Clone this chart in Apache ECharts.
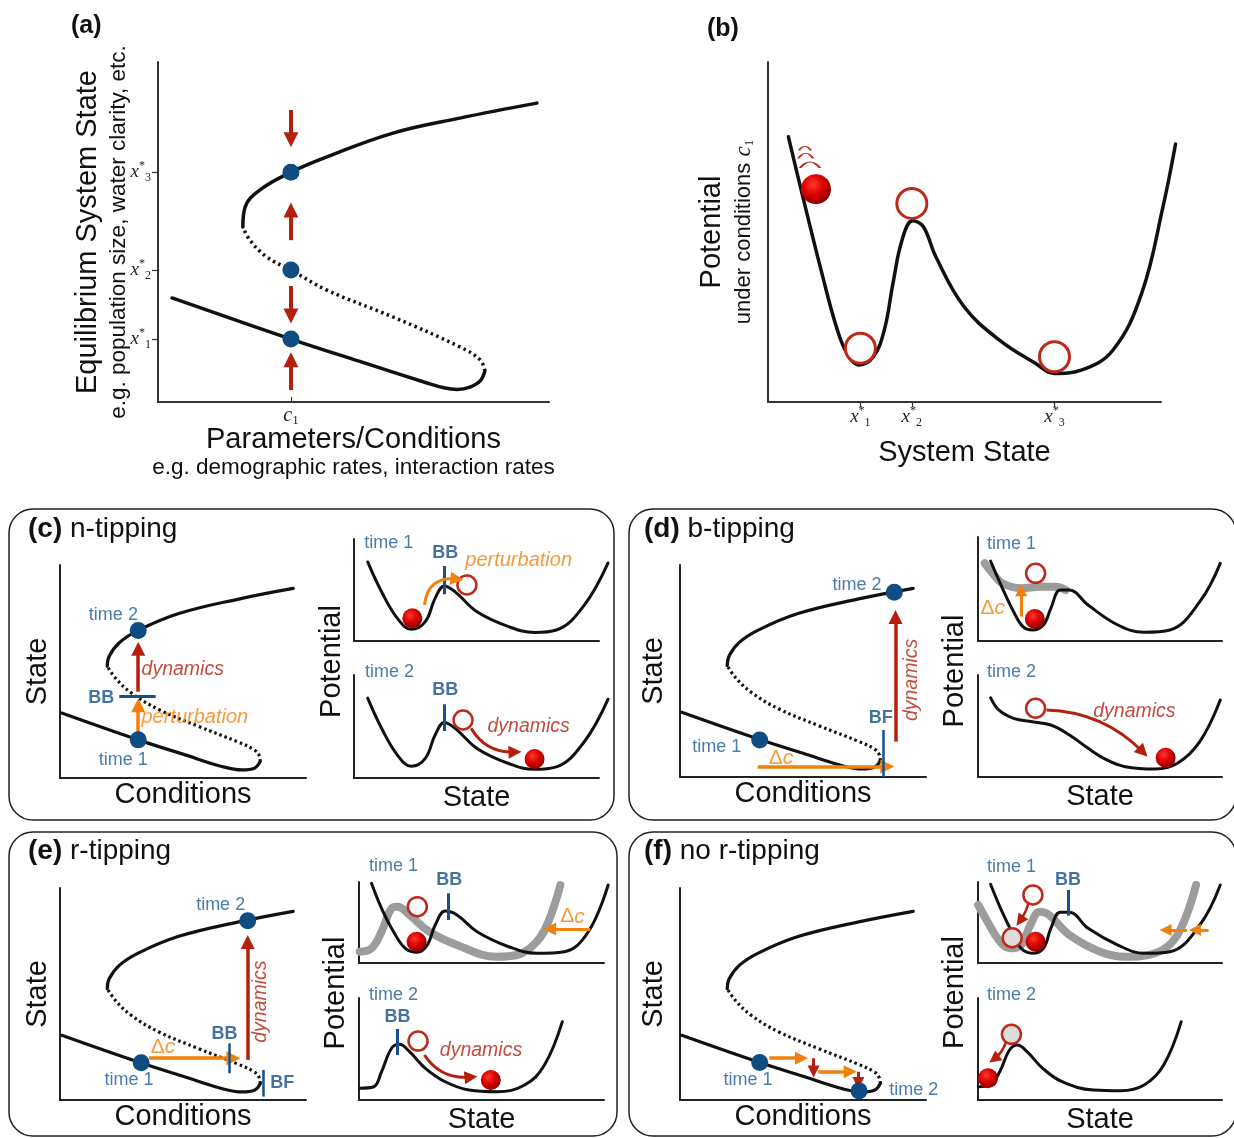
<!DOCTYPE html>
<html><head><meta charset="utf-8">
<script src="https://cdn.jsdelivr.net/npm/echarts@6/dist/echarts.min.js"></script>
<style>html,body{margin:0;padding:0;background:#fff}#c{width:1234px;height:1138px}</style>
</head><body><div id="c"></div>
<script>
// ================= DATA (axis units 0-100) =================
// Panel (a): S-shaped equilibrium curve
const aLower  = [[3.6,30.6],[34.0,18.5],[51.4,12.0],[68.8,5.6],[73.4,4.1],[76.5,3.7],[79.8,4.4],[82.4,6.2],[83.6,9.1]];
const aMiddle = [[83.6,9.1],[82.4,12.4],[77.2,16.2],[60.1,25.0],[43.2,32.9],[34.0,38.8],[27.9,42.6],[23.5,47.6],[21.7,51.5]];
const aUpper  = [[21.7,51.5],[22.3,57.4],[26.1,62.4],[34.0,67.6],[43.2,72.1],[60.1,79.1],[77.2,83.5],[96.9,87.9]];
const aEquilibria = [[34.0,18.5],[34.0,38.8],[34.0,67.6]];
const aArrows = [[34.0,85.9,34.0,77.1],[34.0,47.6,34.0,56.5],[34.0,34.1,34.0,25.3],[34.0,3.5,34.0,12.4]];
const aStateTicks = [18.5,38.8,67.6];
const aStateTickLabels = ['1','2','3'];
const aCondTicks = [34.0];

// Panel (b): potential landscape
const bPotential = [[5.2,78.0],[7.4,67.3],[10.1,54.5],[13.7,37.9],[17.4,22.1],[20.1,14.3],[23.2,10.9],[26.8,13.3],[29.6,21.2],[31.8,34.9],[34.1,47.6],[36.8,53.3],[39.5,51.6],[42.7,42.7],[49.9,28.0],[58.9,18.2],[68.0,11.4],[72.9,8.4],[79.7,9.4],[87.8,15.3],[95.1,32.0],[100.5,57.4],[103.7,75.9]];
const bStateTicks = [23.5,36.6,72.9];
const bStateTickLabels = ['1','2','3'];
const bRings = [[23.5,15.8],[36.6,58.4],[72.9,13.3]];
const bBall = [[12.2,62.6]];
const bWiggles = [[9.4,74.6],[9.6,72.4],[10.7,69.7]];

// Panels (c)-(f): shared small S-curve
const sLower  = [[0.7,30.5],[31.8,17.9],[50.0,11.2],[66.1,5.3],[74.1,3.8],[79.0,4.6],[81.4,7.7]];
const sMiddle = [[81.4,7.7],[81.0,10.5],[79.0,13.2],[72.6,16.8],[56.4,24.2],[40.2,32.1],[28.9,40.0],[22.5,47.0],[19.2,52.5]];
const sUpper  = [[19.2,52.5],[20.0,57.2],[24.1,63.5],[31.8,69.3],[48.3,77.2],[72.6,84.0],[94.8,89.0]];

// (c) n-tipping
const cDots = [[31.8,17.9],[31.8,69.3]];
const cBBTick = [[24.1,38.2,38.9,38.2]];
const cPerturbArrow = [[31.8,17.9,31.8,34.1]];
const cDynArrow = [[31.8,40.5,31.8,60.7]];
const potC = [[5.6,77.5],[11.3,48.0],[17.8,22.0],[23.4,11.4],[29.1,19.0],[33.1,41.8],[36.9,54.0],[41.3,48.2],[50.2,28.7],[63.1,14.1],[73.7,8.4],[82.6,10.8],[94.0,35.2],[103.7,76.5]];
const cTopBall = [[23.8,22.3]], cTopRing = [[46.1,54.9]], cTopBB = [[36.9,73.5,36.9,45.8]];
const cTopArrow = [[28.8,35.3,42.0,60.8]];
const cBotBall = [[73.7,18.4]], cBotRing = [[44.5,56.3]], cBotBB = [[36.9,71.6,36.9,45.6]];
const cBotArrow = [[47.8,48.3,65.7,25.2]];

// (d) b-tipping
const dDots = [[32.4,17.5],[87.1,87.2]];
const dDeltaArrow = [[31.6,4.9,84.3,4.9]];
const dDynArrow = [[87.6,16.7,87.6,75.5]];
const dBF = [[82.8,0,82.8,22.2]];
const potD1 = [[5.4,76.9],[10.5,50.7],[15.3,28.2],[19.3,13.8],[23.3,10.6],[28.1,15.4],[31.3,31.4],[35.3,49.0],[39.3,49.0],[47.3,34.6],[60.1,15.4],[71.3,8.4],[82.5,10.6],[95.3,37.8],[104.1,74.7]];
const potD1Shift = [[2.9,74.7],[6.5,64.5],[10.4,55.5],[18.6,50.7],[26.8,52.2],[33.6,52.2],[37.7,49.0]];
const dTopRing = [[23.6,65.1]], dTopBall = [[23.3,21.2]], dTopArrow = [[17.7,23.4,17.7,48.8]];
const potD2 = [[5.4,77.7],[8.9,65.7],[15.3,57.5],[23.3,54.2],[31.3,51.0],[39.3,41.2],[47.3,28.1],[55.3,16.7],[63.3,10.1],[76.1,7.8],[85.7,13.4],[95.3,34.6],[104.1,75.5]];
const dBotRing = [[23.6,67.4]], dBotBall = [[76.9,18.9]], dBotArrow = [[28.1,65.7,67.6,24.5]];

// (e) r-tipping
const eDots = [[33.0,17.6],[76.3,84.6]];
const eDeltaArrow = [[36.2,19.7,70.5,19.7]];
const eBB = [[69.0,26.7,69.0,12.6]];
const eDynArrow = [[76.3,18.9,76.3,74.5]];
const eBF = [[82.6,14.2,82.6,1.6]];
const potE1 = [[5.1,98.4],[9.2,67.5],[14.1,38.6],[18.9,18.1],[23.8,13.2],[27.9,22.2],[31.1,46.9],[35.2,64.2],[40.0,59.3],[48.2,38.6],[61.1,20.1],[72.5,12.0],[83.8,14.0],[93.6,38.6],[101.7,96.3]];
const potE1Shift = [[0.3,14.0],[5.1,18.1],[9.2,38.6],[13.3,67.5],[15.7,69.5],[20.6,59.3],[28.7,38.6],[40.0,22.2],[56.2,7.8],[64.4,9.9],[72.5,26.3],[77.3,51.0],[82.2,96.3]];
const eTopRing = [[23.8,69.5]], eTopBall = [[23.5,26.3]], eTopBB = [[36.4,86.0,36.4,53.1]], eTopArrow = [[94.4,42.0,77.8,42.0]];
const potE2 = [[0.3,11.5],[6.0,13.0],[9.2,27.7],[13.3,50.7],[16.5,54.6],[20.6,47.4],[27.1,31.1],[35.2,17.9],[44.9,9.8],[56.2,8.1],[67.6,14.7],[75.7,34.3],[83.0,76.8]];
const eBotRing = [[24.1,57.8]], eBotBall = [[53.8,19.6]], eBotBB = [[15.7,69.6,15.7,44.1]], eBotArrow = [[26.7,44.1,45.7,22.5]];

// (f) no r-tipping
const fDots = [[32.4,17.7],[72.8,4.3]];
const fShiftArrows = [[36.3,19.7,49.4,19.7],[56.2,13.3,69.2,13.3]];
const fTrackArrows = [[54.3,19.7,54.3,13.5],[72.5,13.3,72.5,8.0]];
const potF1 = [[5.4,97.2],[9.7,67.5],[14.5,38.6],[18.5,18.1],[23.3,12.0],[28.1,18.1],[31.3,42.8],[35.3,62.6],[39.3,62.6],[47.3,42.8],[60.1,22.2],[71.3,12.0],[82.5,14.0],[95.3,46.9],[104.1,96.3]];
const potF1Shift = [[0.1,71.6],[4.1,51.0],[8.9,28.4],[13.7,18.1],[18.5,22.2],[22.5,46.9],[26.5,63.3],[30.5,59.3],[39.3,34.6],[52.5,14.0],[63.3,7.8],[76.1,12.0],[85.7,34.6],[93.7,96.3]];
const fTopRing = [[22.5,84.0]], fTopGreyRing = [[14.0,31.2]], fTopBall = [[23.6,26.3]], fTopBB = [[36.9,90.1,36.9,58.4]];
const fTopArrow = [[20.9,76.5,17.2,51.9]], fTopShift = [[85.7,40.7,76.9,40.7],[94.5,40.7,88.9,40.7]];
const potF2 = [[0.1,13.0],[4.9,14.7],[8.9,27.7],[12.9,49.0],[16.1,53.9],[20.1,47.4],[26.5,31.1],[34.5,17.9],[47.3,9.8],[58.5,9.1],[68.1,14.7],[76.1,34.3],[83.3,76.8]];
const fBotGreyRing = [[13.7,64.4]], fBotBall = [[4.1,21.3]], fBotArrow = [[11.3,55.6,6.6,40.2]];

// ================= STYLE =================
const FONT = '"Liberation Sans", Arial, Helvetica, sans-serif';
const SERIF = '"Liberation Serif", "DejaVu Serif", serif';
const INK = '#111111', AXIS = '#222222';
const BLUE_DOT = '#0f4c81', BLUE_TXT = '#1b5a96', BLUE_BB = '#15508a';
const RED = '#b3200e', RING = '#c0281a', ORANGE = '#f2810c', GREY = '#9c9c9c';
const BALL = {type:'radial', x:0.4, y:0.35, r:0.68, colorStops:[{offset:0,color:'#ff3a2e'},{offset:0.5,color:'#dc0000'},{offset:1,color:'#870000'}]};

const grids = [], xAxes = [], yAxes = [], series = [];
function axisBase(i){
  return {gridIndex:i, type:'value', min:0, max:100, nameMoveOverlap:false,
    axisLine:{show:true, onZero:false, lineStyle:{color:AXIS, width:2}},
    axisTick:{show:false}, axisLabel:{show:false}, splitLine:{show:false}};
}
function addGrid(r, xo, yo){
  const i = grids.length;
  grids.push({left:r[0], top:r[1], width:r[2], height:r[3], containLabel:false});
  xAxes.push(Object.assign(axisBase(i), xo||{}));
  yAxes.push(Object.assign(axisBase(i), yo||{}));
  return i;
}
// same units as the plotted axes, but with a wider extent so curves may run past the axis end
function overlay(r, xmax){
  return addGrid([r[0], r[1], r[2]*xmax/100, r[3]], {show:false, max:xmax}, {show:false});
}
function curve(g, data, o){
  o = o||{};
  series.push({type:'line', xAxisIndex:g, yAxisIndex:g, data:data, smooth:o.smooth==null?0.4:o.smooth,
    symbol:'none', showSymbol:false, clip:false, silent:true, z:o.z||2,
    lineStyle:{color:o.color||INK, width:o.width||3, type:o.type||'solid', cap:o.cap||'round', join:'round', opacity:o.opacity==null?1:o.opacity}});
}
function arrows(g, list, o){
  series.push({type:'lines', coordinateSystem:'cartesian2d', xAxisIndex:g, yAxisIndex:g, silent:true, clip:false,
    zlevel:o.zlevel||0, z:o.z||4,
    symbol:['none', o.head ? 'triangle' : 'none'], symbolSize:[0, o.head||0],
    lineStyle:{color:o.color, width:o.width||3, opacity:1, curveness:o.curve||0},
    data:list.map(a => ({coords:[[a[0],a[1]],[a[2],a[3]]]}))});
}
function marks(g, list, o){
  series.push({type:'scatter', xAxisIndex:g, yAxisIndex:g, silent:true, clip:false, zlevel:1, z:o.z||8,
    symbol:o.symbol||'circle', symbolSize:o.size, itemStyle:Object.assign({opacity:1}, o.style), data:list});
}
const STY = {
  time:{color:BLUE_TXT, fontSize:18},
  bb:{color:BLUE_BB, fontSize:18, fontWeight:'bold'},
  dyn:{color:RED, fontSize:19.5, fontStyle:'italic'},
  pert:{color:ORANGE, fontSize:20, fontStyle:'italic'},
  dc:{rich:{d:{color:ORANGE,fontSize:21,fontFamily:FONT}, c:{color:ORANGE,fontSize:21,fontStyle:'italic',fontFamily:FONT}}}
};
function texts(g, list){
  series.push({type:'scatter', xAxisIndex:g, yAxisIndex:g, silent:true, clip:false, zlevel:1, z:9, symbolSize:1,
    itemStyle:{color:'rgba(0,0,0,0)'},
    data:list.map(t => ({value:[t[1],t[2]], label:Object.assign({show:true, position:'inside', align:'center', verticalAlign:'middle',
      fontFamily:FONT, formatter: t[3]==='dc' ? '{d|Δ}{c|c}' : t[0]}, STY[t[3]], t[4]||{})}))});
}
function nameStyle(size, lh){ return {fontFamily:FONT, fontSize:size, lineHeight:lh, color:INK}; }
function nearest(arr, v){ let bi=0; arr.forEach((t,i)=>{ if (Math.abs(t-v) < Math.abs(arr[bi]-v)) bi=i; }); return bi; }
const STAR_RICH = {
  x:{fontFamily:SERIF, fontStyle:'italic', fontSize:19, lineHeight:24, color:'#222'},
  s:{fontFamily:SERIF, fontSize:12, verticalAlign:'top', color:'#222'},
  n:{fontFamily:SERIF, fontSize:12, verticalAlign:'bottom', color:'#222'}
};
const ringStyle = w => ({color:'#ffffff', borderColor:RING, borderWidth:w});
const greyRingStyle = {color:'#dcdcdc', borderColor:RING, borderWidth:2.5};

// ================= PANEL (a) =================
const ga = addGrid([158,62,391,340],
  {name:'{big|Parameters/Conditions}\n{small|e.g. demographic rates, interaction rates}', nameLocation:'middle', nameGap:23,
   nameTextStyle:{rich:{big:nameStyle(29,29), small:nameStyle(22.5,27)}},
   axisLine:{show:true,onZero:false,lineStyle:{color:'#333',width:2}},
   axisTick:{show:true, inside:true, customValues:aCondTicks, length:5, lineStyle:{color:'#333',width:1.2}},
   axisLabel:{show:true, customValues:aCondTicks, margin:3, formatter:() => '{c|c}{n|1}',
     rich:{c:{fontFamily:SERIF,fontStyle:'italic',fontSize:20,lineHeight:22,color:'#222'}, n:{fontFamily:SERIF,fontSize:13,verticalAlign:'bottom',color:'#222'}}}},
  {name:'{big|Equilibrium System State}\n{small|e.g. population size, water clarity, etc.}', nameLocation:'middle', nameRotate:90, nameGap:26,
   nameTextStyle:{rich:{big:nameStyle(29,35), small:nameStyle(22.5,27)}},
   axisLine:{show:true,onZero:false,lineStyle:{color:'#333',width:2}},
   axisTick:{show:true, customValues:aStateTicks, length:6, lineStyle:{color:'#333',width:1.2}},
   axisLabel:{show:true, customValues:aStateTicks, margin:7,
     formatter:v => '{x|x}{s|*}{n|' + aStateTickLabels[nearest(aStateTicks,v)] + '}', rich:STAR_RICH}});
curve(ga, aLower, {width:3.5});
curve(ga, aMiddle, {width:3.5, type:[2.5,3.5], cap:'butt'});
curve(ga, aUpper, {width:3.5});
arrows(ga, aArrows, {color:RED, width:4, head:15});
marks(ga, aEquilibria, {size:17, style:{color:BLUE_DOT}, z:10});

// ================= PANEL (b) =================
const bRect = [768,62,393,340];
const gb = addGrid(bRect,
  {name:'System State', nameLocation:'middle', nameGap:34, nameTextStyle:nameStyle(29,34),
   axisLine:{show:true,onZero:false,lineStyle:{color:'#333',width:2}},
   axisTick:{show:true, customValues:bStateTicks, length:5, lineStyle:{color:'#333',width:1.2}},
   axisLabel:{show:true, customValues:bStateTicks, margin:3,
     formatter:v => '{x|x}{s|*}{n|' + bStateTickLabels[nearest(bStateTicks,v)] + '}', rich:STAR_RICH}},
  {name:'{big|Potential}\n{small|under conditions }{ci|c}{cn|1}', nameLocation:'middle', nameRotate:90, nameGap:12,
   nameTextStyle:{rich:{big:nameStyle(29,38), small:nameStyle(22,25),
     ci:{fontFamily:SERIF,fontStyle:'italic',fontSize:23,lineHeight:25,color:INK}, cn:{fontFamily:SERIF,fontSize:13,lineHeight:25,verticalAlign:'bottom',color:INK}}},
   axisLine:{show:true,onZero:false,lineStyle:{color:'#333',width:2}}});
curve(overlay(bRect,110), bPotential, {width:3.5, smooth:0.4});
marks(gb, bRings, {size:30, style:ringStyle(3)});
marks(gb, bBall, {size:30, style:{color:BALL}});
marks(gb, bWiggles.slice(0,1), {symbol:'path://M0,8 Q10,0 20,8', size:[12,4], style:{color:'none', borderColor:RING, borderWidth:1.5}});
marks(gb, bWiggles.slice(1,2), {symbol:'path://M0,8 Q10,0 20,8', size:[15,5], style:{color:'none', borderColor:RING, borderWidth:1.5}});
marks(gb, bWiggles.slice(2,3), {symbol:'path://M0,8 Q10,0 20,8', size:[20,6], style:{color:'none', borderColor:RING, borderWidth:1.5}});

// ================= helpers for (c)-(f) =================
function leftPlot(rect, stateGap){
  const g = addGrid(rect,
    {name:'Conditions', nameLocation:'middle', nameGap:1, nameTextStyle:nameStyle(29,32)},
    {name:'State', nameLocation:'middle', nameRotate:90, nameGap:stateGap, nameTextStyle:nameStyle(29,32)});
  curve(g, sLower, {width:3.2});
  curve(g, sMiddle, {width:3.2, type:[2.5,3], cap:'butt'});
  curve(g, sUpper, {width:3.2});
  return g;
}
function potName(rect, gap){
  addGrid(rect, {show:false},
    {axisLine:{show:false}, name:'Potential', nameLocation:'middle', nameRotate:90, nameGap:gap, nameTextStyle:nameStyle(29,32)});
}
const stateX = {name:'State', nameLocation:'middle', nameGap:4, nameTextStyle:nameStyle(29,32)};

// ================= PANEL (c) =================
const cL = leftPlot([60,565,246,213], 6);
arrows(cL, cPerturbArrow, {color:ORANGE, width:3.5, head:14});
arrows(cL, cDynArrow, {color:RED, width:3.5, head:14});
arrows(cL, cBBTick, {color:BLUE_BB, width:3});
marks(cL, cDots, {size:17, style:{color:BLUE_DOT}});
texts(cL, [['time 2',21.7,76.5,'time'],['time 1',25.7,8.5,'time'],['dynamics',49.9,50.7,'dyn'],['perturbation',54.8,28.3,'pert'],['BB',16.8,37.4,'bb']]);

const cTRect = [354,539,245,102];
const cT = addGrid(cTRect);
curve(overlay(cTRect,110), potC, {width:3});
arrows(cT, cTopBB, {color:BLUE_BB, width:3});
marks(cT, cTopRing, {size:19, style:ringStyle(2.5)});
marks(cT, cTopBall, {size:20, style:{color:BALL}});
arrows(cT, cTopArrow, {color:ORANGE, width:3, head:13, curve:0.5, zlevel:1, z:9});
texts(cT, [['time 1',14.2,95.8,'time'],['BB',37.2,86.0,'bb'],['perturbation',67.2,79.4,'pert']]);

const cBRect = [354,675,245,103];
const cB = addGrid(cBRect, stateX);
curve(overlay(cBRect,110), potC, {width:3});
arrows(cB, cBotBB, {color:BLUE_BB, width:3});
marks(cB, cBotRing, {size:19, style:ringStyle(2.5)});
marks(cB, cBotBall, {size:20, style:{color:BALL}});
arrows(cB, cBotArrow, {color:RED, width:3, head:13, curve:-0.3});
texts(cB, [['time 2',14.5,103.2,'time'],['BB',37.2,85.4,'bb'],['dynamics',71.3,49.8,'dyn']]);
potName([354,545,245,233], 6);

// ================= PANEL (d) =================
const dL = leftPlot([680,565,246,212], 10);
arrows(dL, dDeltaArrow, {color:ORANGE, width:3.5, head:14});
arrows(dL, dDynArrow, {color:RED, width:3.5, head:14});
arrows(dL, dBF, {color:BLUE_BB, width:2.5});
marks(dL, dDots, {size:17, style:{color:BLUE_DOT}});
texts(dL, [['time 1',14.9,14.3,'time'],['time 2',72.0,90.6,'time'],['Δc',41.1,8.8,'dc'],['BF',81.6,27.7,'bb'],['dynamics',94.3,45.8,'dyn',{rotate:90}]]);

const dTRect = [978,537,244,104];
const dT = addGrid(dTRect);
const dTo = overlay(dTRect,110);
curve(dTo, potD1Shift, {width:8, color:GREY, z:1});
curve(dTo, potD1, {width:3});
marks(dT, dTopRing, {size:19, style:ringStyle(2.5)});
marks(dT, dTopBall, {size:20, style:{color:BALL}});
arrows(dT, dTopArrow, {color:ORANGE, width:3, head:12});
texts(dT, [['time 1',13.7,93.0,'time'],['Δc',6.0,31.4,'dc']]);

const dBRect = [978,675,244,102];
const dB = addGrid(dBRect, stateX);
curve(overlay(dBRect,110), potD2, {width:3});
marks(dB, dBotRing, {size:19, style:ringStyle(2.5)});
marks(dB, dBotBall, {size:20, style:{color:BALL}});
arrows(dB, dBotArrow, {color:RED, width:3, head:13, curve:0.2});
texts(dB, [['time 2',13.7,103.2,'time'],['dynamics',64.1,64.0,'dyn']]);
potName([978,565,244,212], 7);

// ================= PANEL (e) =================
const eL = leftPlot([60,888,246,212], 6);
arrows(eL, eDeltaArrow, {color:ORANGE, width:3.5, head:14});
arrows(eL, eDynArrow, {color:RED, width:3.5, head:14});
arrows(eL, eBB, {color:BLUE_BB, width:2.5});
arrows(eL, eBF, {color:BLUE_BB, width:2.5});
marks(eL, eDots, {size:17, style:{color:BLUE_DOT}});
texts(eL, [['time 1',28.1,9.4,'time'],['time 2',65.3,92.0,'time'],['Δc',41.9,25.1,'dc'],['BB',66.9,31.0,'bb'],['dynamics',81.4,46.4,'dyn',{rotate:90}],['BF',90.3,7.9,'bb']]);

const eTRect = [359,882,245,81];
const eT = addGrid(eTRect);
const eTo = overlay(eTRect,110);
curve(eTo, potE1Shift, {width:8, color:GREY, z:1});
curve(eTo, potE1, {width:3});
arrows(eT, eTopBB, {color:BLUE_BB, width:3});
marks(eT, eTopRing, {size:19, style:ringStyle(2.5)});
marks(eT, eTopBall, {size:20, style:{color:BALL}});
arrows(eT, eTopArrow, {color:ORANGE, width:3, head:13});
texts(eT, [['time 1',14.1,119.4,'time'],['BB',36.8,102.5,'bb'],['Δc',87.1,57.2,'dc']]);

const eB = addGrid([359,998,245,102], stateX);
curve(eB, potE2, {width:3});
arrows(eB, eBotBB, {color:BLUE_BB, width:3});
marks(eB, eBotRing, {size:19, style:ringStyle(2.5)});
marks(eB, eBotBall, {size:20, style:{color:BALL}});
arrows(eB, eBotArrow, {color:RED, width:3, head:13, curve:-0.3});
texts(eB, [['time 2',14.1,102.9,'time'],['BB',15.7,81.7,'bb'],['dynamics',49.8,48.0,'dyn']]);
potName([359,886,245,214], 7);

// ================= PANEL (f) =================
const fL = leftPlot([680,888,246,212], 10);
arrows(fL, fShiftArrows, {color:ORANGE, width:3.5, head:13});
arrows(fL, fTrackArrows, {color:RED, width:3, head:12});
marks(fL, fDots, {size:17, style:{color:BLUE_DOT}});
texts(fL, [['time 1',27.6,9.4,'time'],['time 2',95.0,4.7,'time']]);

const fTRect = [978,882,244,81];
const fT = addGrid(fTRect);
const fTo = overlay(fTRect,110);
curve(fTo, potF1Shift, {width:8, color:GREY, z:1});
curve(fTo, potF1, {width:3});
arrows(fT, fTopBB, {color:BLUE_BB, width:3});
marks(fT, fTopRing, {size:19, style:ringStyle(2.5)});
marks(fT, fTopGreyRing, {size:19, style:greyRingStyle});
marks(fT, fTopBall, {size:20, style:{color:BALL}});
arrows(fT, fTopArrow, {color:RED, width:2.5, head:12, curve:0.1});
arrows(fT, fTopShift, {color:ORANGE, width:3, head:12});
texts(fT, [['time 1',13.7,118.9,'time'],['BB',36.9,102.5,'bb']]);

const fB = addGrid([978,998,244,102], stateX);
curve(fB, potF2, {width:3});
marks(fB, fBotGreyRing, {size:19, style:greyRingStyle});
marks(fB, fBotBall, {size:20, style:{color:BALL}});
arrows(fB, fBotArrow, {color:RED, width:2.5, head:12, curve:0.15, zlevel:1, z:9});
texts(fB, [['time 2',13.7,102.9,'time']]);
potName([978,885,244,215], 7);

// ================= TITLES / FRAMES =================
function panelTitle(tag, text, left, top, size){
  return {text:'{b|' + tag + '}' + (text ? ' {n|' + text + '}' : ''), left:left, top:top, padding:0,
    textStyle:{fontWeight:'normal', fontFamily:FONT, fontSize:size,
      rich:{b:{fontFamily:FONT,fontSize:size,fontWeight:'bold',lineHeight:size+5,color:INK},
            n:{fontFamily:FONT,fontSize:size,fontWeight:'normal',lineHeight:size+5,color:INK}}}};
}
const box = (x,y,w,h) => ({type:'rect', silent:true, z:-10, shape:{x:x,y:y,width:w,height:h,r:24}, style:{fill:'none', stroke:'#222', lineWidth:1.5}});

const option = {
  animation:false, backgroundColor:'#ffffff',
  textStyle:{fontFamily:FONT},
  title:[panelTitle('(a)','',71,11,25), panelTitle('(b)','',707,14,25),
         panelTitle('(c)','n-tipping',28,513,28), panelTitle('(d)','b-tipping',644,513,28),
         panelTitle('(e)','r-tipping',28,835,28), panelTitle('(f)','no r-tipping',644,835,28)],
  grid:grids, xAxis:xAxes, yAxis:yAxes, series:series,
  graphic:[box(9,509,605,311), box(629,509,607,311), box(9,832,608,304), box(629,832,607,304)]
};
const chart = echarts.init(document.getElementById('c'), null, {renderer:'canvas'});
chart.setOption(option);
</script>
</body></html>
